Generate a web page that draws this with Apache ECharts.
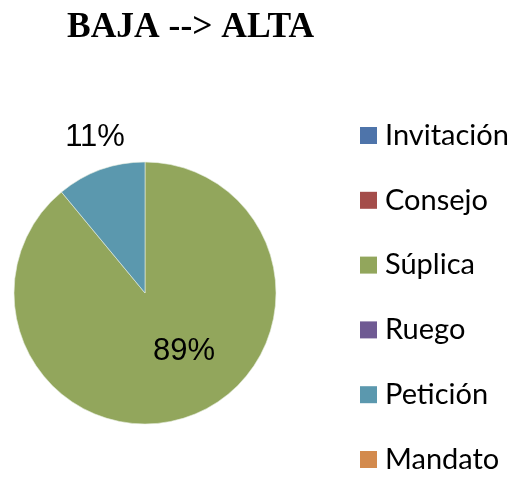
<!DOCTYPE html>
<html>
<head>
<meta charset="utf-8">
<script src="https://cdn.jsdelivr.net/npm/echarts@6/dist/echarts.min.js"></script>
<style>
html,body{margin:0;padding:0;background:#fff;}
#chart{width:532px;height:498px;}
</style>
</head>
<body>
<div id="chart"></div>
<script>
const titleText = 'BAJA --> ALTA';
const categories = ['Invitación', 'Consejo', 'Súplica', 'Ruego', 'Petición', 'Mandato'];
const values = [0, 0, 89, 0, 11, 0];
const colors = ['#4E74AA', '#A44D4A', '#92A65C', '#6F5A93', '#5B98AE', '#D38A4D'];

// label anchor positions relative to pie center (Excel-style placement)
const labelOffsets = { 'Súplica': [39, 58], 'Petición': [-50, -156] };
const cx = 145, cy = 293;

const chart = echarts.init(document.getElementById('chart'));
chart.setOption({
  animation: false,
  backgroundColor: '#fff',
  title: {
    text: titleText,
    left: 62,
    top: 5,
    textStyle: { fontFamily: 'Liberation Serif', fontWeight: 'bold', fontSize: 35.5, color: '#000' }
  },
  legend: {
    orient: 'vertical',
    left: 355,
    top: 115,
    itemWidth: 17,
    itemHeight: 17,
    itemGap: 33.8,
    icon: 'rect',
    itemStyle: { borderWidth: 0 },
    textStyle: { fontFamily: 'Lato', fontSize: 29, color: '#000', lineHeight: 31, padding: [0, 0, 0, 3] },
    data: categories
  },
  series: [{
    type: 'pie',
    center: [cx, cy],
    radius: 131,
    startAngle: 90,
    clockwise: true,
    avoidLabelOverlap: false,
    stillShowZeroSum: true,
    itemStyle: { borderColor: '#e8eee0', borderWidth: 0.6 },
    label: {
      show: true,
      fontFamily: 'Liberation Sans',
      fontSize: 31,
      color: '#000'
    },
    labelLine: { show: false },
    labelLayout: function (p) {
      const off = labelOffsets[categories[p.dataIndex]];
      if (!off) return {};
      return { x: cx + off[0], y: cy + off[1], align: 'center', verticalAlign: 'middle' };
    },
    emphasis: { disabled: true },
    data: categories.map((c, i) => ({
      name: c,
      value: values[i],
      itemStyle: { color: colors[i], borderWidth: values[i] > 0 ? 0.6 : 0 },
      label: { show: values[i] > 0, formatter: Math.round(values[i]) + '%' }
    }))
  }]
});
</script>
</body>
</html>
